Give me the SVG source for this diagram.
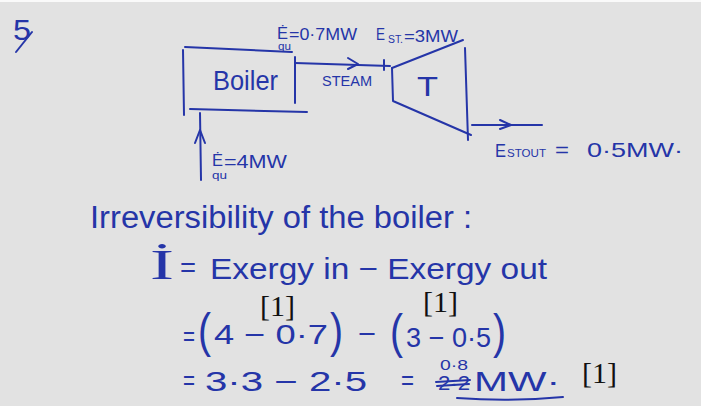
<svg xmlns="http://www.w3.org/2000/svg" width="701" height="406" viewBox="0 0 701 406">
<style>
.ink{fill:#2535a8;font-family:"Liberation Sans",Arial,sans-serif}
.serif{font-family:"Liberation Serif","Times New Roman",serif}
.ln{stroke:#2535a8;stroke-width:2;fill:none;stroke-linecap:round;stroke-linejoin:round}
.mark{fill:#111;font-family:"Liberation Serif","Times New Roman",serif;font-size:30px}
</style>
<rect x="0" y="0" width="701" height="406" fill="#e2e2e2"/>
<rect x="0" y="0" width="701" height="2" fill="#fafafa"/>

<g id="number">
<text class="ink" x="13" y="40" font-size="30" textLength="18" lengthAdjust="spacingAndGlyphs">5</text>
<path class="ln" d="M16,52 L32,32"/>
</g>

<g id="boiler">
<path class="ln" d="M185,47 L292,52"/>
<path class="ln" d="M183,50 L184,115"/>
<path class="ln" d="M190,109 L307,112"/>
<path class="ln" d="M295,57 L295,103"/>
<text class="ink" x="213" y="90" font-size="27" textLength="65" lengthAdjust="spacingAndGlyphs">Boiler</text>
</g>

<g id="turbine">
<path class="ln" d="M392,68 L463,40"/>
<path class="ln" d="M392,68 L393,101 L471,135"/>
<path class="ln" d="M465,48 L468,140"/>
<text class="ink" x="417" y="96" font-size="27" textLength="21" lengthAdjust="spacingAndGlyphs">T</text>
</g>

<g id="connectors">
<path class="ln" d="M295,63 L390,66"/>
<path class="ln" d="M348,58 L358,64 L348,69"/>
<path class="ln" d="M384,60 L384,70"/>
<path class="ln" d="M472,125 L542,125"/>
<path class="ln" d="M500,120 L511,125 L500,129"/>
<path class="ln" d="M200,113 L201,180"/>
<path class="ln" d="M195,143 L200,130 L205,143"/>
</g>

<g id="labels">
<text class="ink" x="322" y="86" font-size="15" textLength="50" lengthAdjust="spacingAndGlyphs">STEAM</text>

<text class="ink" x="277" y="39" font-size="16" textLength="11" lengthAdjust="spacingAndGlyphs">Ė</text>
<text class="ink" x="278" y="50" font-size="10" textLength="13" lengthAdjust="spacingAndGlyphs">qu</text>
<text class="ink" x="289" y="40" font-size="16" textLength="68" lengthAdjust="spacingAndGlyphs">=0·7MW</text>

<text class="ink" x="376" y="40" font-size="16" textLength="9" lengthAdjust="spacingAndGlyphs">E</text>
<text class="ink" x="388" y="43" font-size="10" textLength="15" lengthAdjust="spacingAndGlyphs">ST.</text>
<text class="ink" x="404" y="42" font-size="16" textLength="54" lengthAdjust="spacingAndGlyphs">=3MW</text>

<text class="ink" x="212" y="166" font-size="17" textLength="11" lengthAdjust="spacingAndGlyphs">Ė</text>
<text class="ink" x="212" y="179" font-size="10" textLength="15" lengthAdjust="spacingAndGlyphs">qu</text>
<text class="ink" x="224" y="168" font-size="18" textLength="63" lengthAdjust="spacingAndGlyphs">=4MW</text>

<text class="ink" x="495" y="157" font-size="18" textLength="11" lengthAdjust="spacingAndGlyphs">E</text>
<text class="ink" x="507" y="157" font-size="11" textLength="39" lengthAdjust="spacingAndGlyphs">STOUT</text>
<text class="ink" x="555" y="157" font-size="20" textLength="14" lengthAdjust="spacingAndGlyphs">=</text>
<text class="ink" x="587" y="157" font-size="21" textLength="96" lengthAdjust="spacingAndGlyphs">0·5MW·</text>
</g>

<g id="working">
<text class="ink" x="90" y="228" font-size="31" textLength="382" lengthAdjust="spacingAndGlyphs">Irreversibility of the boiler :</text>
<text class="ink serif" x="150" y="279" font-size="42" textLength="24" lengthAdjust="spacingAndGlyphs">İ</text>
<text class="ink" x="180" y="277" font-size="28" textLength="16" lengthAdjust="spacingAndGlyphs">=</text>
<text class="ink" x="210" y="279" font-size="30" textLength="337" lengthAdjust="spacingAndGlyphs">Exergy in − Exergy out</text>

<text class="ink" x="183" y="346" font-size="28" textLength="12" lengthAdjust="spacingAndGlyphs">=</text>
<text class="ink" x="198" y="347" font-size="48" textLength="13" lengthAdjust="spacingAndGlyphs">(</text>
<text class="ink" x="214" y="344" font-size="27" textLength="114" lengthAdjust="spacingAndGlyphs">4 − 0·7</text>
<text class="ink" x="330" y="347" font-size="48" textLength="13" lengthAdjust="spacingAndGlyphs">)</text>
<text class="ink" x="358" y="343" font-size="28" textLength="18" lengthAdjust="spacingAndGlyphs">−</text>
<text class="ink" x="390" y="348" font-size="48" textLength="13" lengthAdjust="spacingAndGlyphs">(</text>
<text class="ink" x="406" y="347" font-size="28" textLength="85" lengthAdjust="spacingAndGlyphs">3 − 0·5</text>
<text class="ink" x="493" y="348" font-size="48" textLength="13" lengthAdjust="spacingAndGlyphs">)</text>

<text class="ink" x="183" y="390" font-size="28" textLength="12" lengthAdjust="spacingAndGlyphs">=</text>
<text class="ink" x="205" y="391" font-size="28" textLength="162" lengthAdjust="spacingAndGlyphs">3·3 − 2·5</text>
<text class="ink" x="401" y="390" font-size="28" textLength="13" lengthAdjust="spacingAndGlyphs">=</text>
<text class="ink" x="440" y="370" font-size="15" textLength="28" lengthAdjust="spacingAndGlyphs">0·8</text>
<text class="ink" x="438" y="390" font-size="20" textLength="32" lengthAdjust="spacingAndGlyphs">2·2</text>
<path class="ln" d="M436,382 L470,380 M437,386 L469,384"/>
<text class="ink" x="474" y="391" font-size="27" textLength="86" lengthAdjust="spacingAndGlyphs">MW·</text>
<path class="ln" d="M457,398 Q510,402 563,397"/>
</g>

<g id="marks">
<text class="mark" x="260" y="316" textLength="35" lengthAdjust="spacingAndGlyphs">[1]</text>
<text class="mark" x="423" y="312" textLength="35" lengthAdjust="spacingAndGlyphs">[1]</text>
<text class="mark" x="582" y="383" textLength="35" lengthAdjust="spacingAndGlyphs">[1]</text>
</g>
</svg>
